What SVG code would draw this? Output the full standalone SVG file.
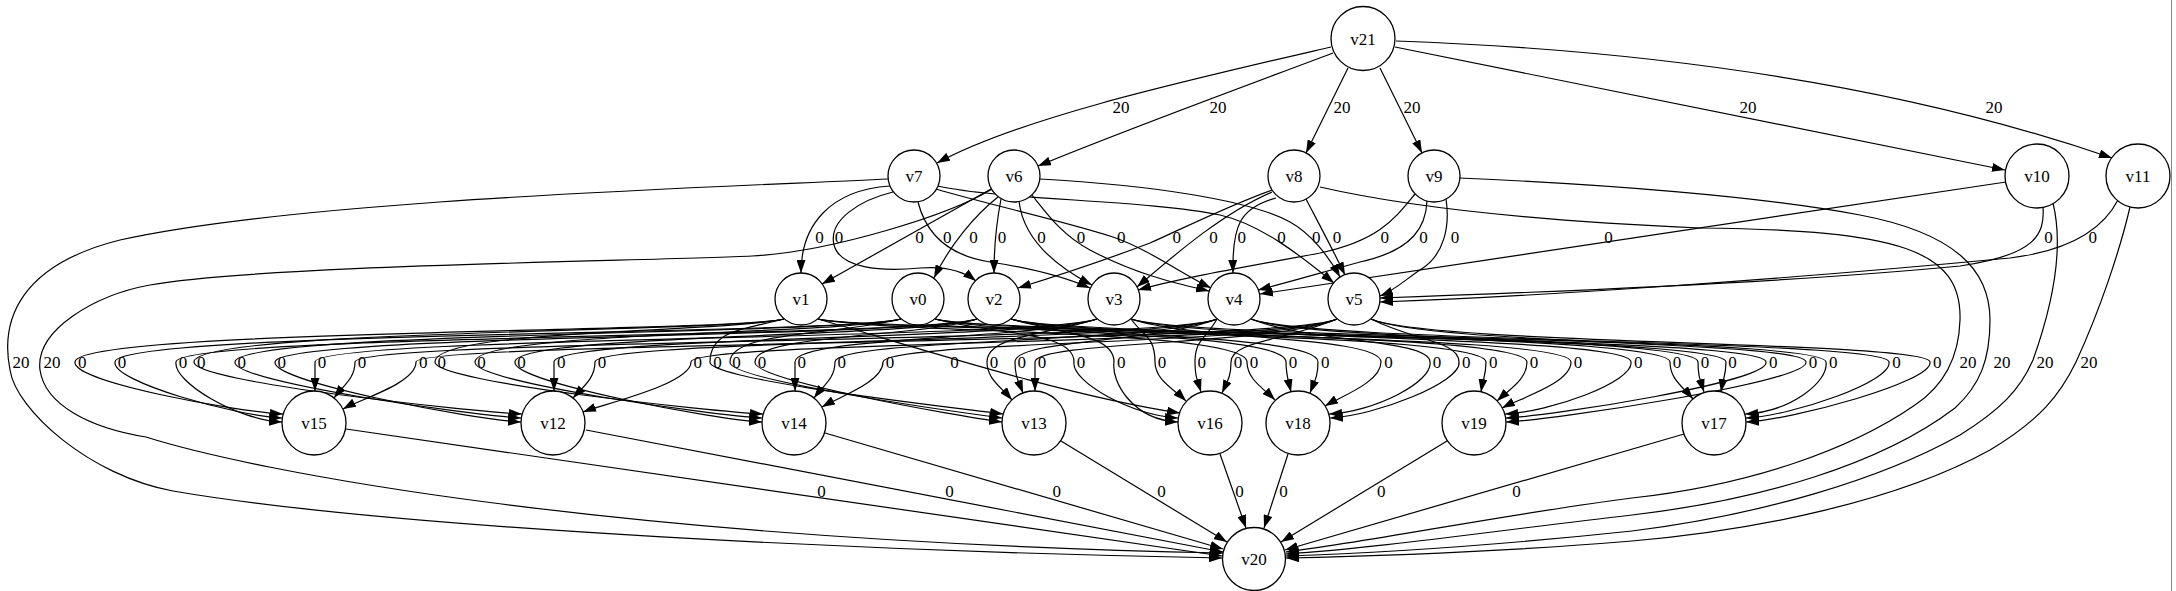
<svg xmlns="http://www.w3.org/2000/svg" width="2176" height="591" viewBox="0 0 2176 591">
<style>
.e{fill:none;stroke:#000;stroke-width:1.2;marker-end:url(#ah)}
.n circle{fill:#fff;stroke:#000;stroke-width:1.3}
text{font-family:"Liberation Serif","Times New Roman",serif;font-size:17px;text-anchor:middle;fill:#000}
</style>
<defs>
<marker id="ah" viewBox="0 0 13 9" refX="13" refY="4.5" markerWidth="13" markerHeight="9" orient="auto" markerUnits="userSpaceOnUse"><path d="M0,0 L13,4.5 L0,9 z" fill="#000"/></marker>
</defs>
<rect width="2176" height="591" fill="#fff"/>
<line x1="2171.5" y1="0" x2="2171.5" y2="591" stroke="#888" stroke-width="1"/>
<g id="connectors">
<path class="e" d="M1331,47 C1180,82 1020,118 937,163"/>
<path class="e" d="M1333,53 C1240,88 1120,132 1038,166"/>
<path class="e" d="M1348,68 L1306,153"/>
<path class="e" d="M1380,68 L1422,153"/>
<path class="e" d="M1395,47 L2005,170"/>
<path class="e" d="M1396,41 C1650,50 1900,85 2112,158"/>
<path class="e" d="M888,179 C700,188 300,200 120,240 C20,265 0,320 10,370 C16,410 90,476 173,491 C400,530 900,552 1222,558"/>
<path class="e" d="M992,189 C950,215 830,252 752,256 C652,261 260,265 150,285 C95,295 35,330 40,370 C45,405 90,428 146,437 C250,470 600,540 1223,553"/>
<path class="e" d="M1320,187 C1420,210 1560,222 1700,228 C1900,230 1962,250 1960,320 C1959,355 1945,385 1915,405 C1850,450 1750,485 1632,498 C1500,515 1380,540 1286,552"/>
<path class="e" d="M1459,178 C1600,184 1760,196 1860,215 C1955,233 1990,270 1990,320 C1990,360 1980,385 1955,408 C1880,465 1760,500 1632,515 C1500,530 1380,548 1286,554"/>
<path class="e" d="M2053,203 C2062,240 2058,290 2033,360 C2020,390 2000,410 1960,435 C1880,480 1760,515 1632,531 C1500,545 1380,553 1286,556"/>
<path class="e" d="M2130,207 C2120,250 2100,310 2076,362 C2060,395 2040,420 1990,450 C1900,500 1760,530 1632,541 C1500,552 1380,556 1286,558"/>
<path class="e" d="M890,186 C830,190 801,225 801,273"/>
<path class="e" d="M893,192 C860,200 828,220 834,245 C840,268 880,272 920,268 C945,266 962,270 976,281"/>
<path class="e" d="M991,189 L822,284"/>
<path class="e" d="M918,202 C925,230 945,255 990,262 C1030,268 1060,275 1090,288"/>
<path class="e" d="M998,197 C975,215 950,245 934,278"/>
<path class="e" d="M1001,199 C996,225 994,245 994,273"/>
<path class="e" d="M1019,201 C1022,228 1040,258 1092,285"/>
<path class="e" d="M1032,195 C1048,215 1062,235 1090,250 C1135,274 1175,283 1209,291"/>
<path class="e" d="M936,189 C990,205 1060,220 1113,237 C1150,250 1180,273 1211,288"/>
<path class="e" d="M1272,190 C1230,205 1190,225 1150,243 C1100,262 1060,275 1018,288"/>
<path class="e" d="M1272,192 C1225,212 1180,250 1137,287"/>
<path class="e" d="M1276,198 C1240,208 1232,225 1233,273"/>
<path class="e" d="M938,186 C1000,200 1150,200 1220,215 C1260,224 1300,255 1334,283"/>
<path class="e" d="M1040,179 C1150,185 1250,200 1290,222 C1310,233 1328,255 1340,277"/>
<path class="e" d="M1306,199 C1318,222 1332,248 1345,275"/>
<path class="e" d="M1415,194 C1395,218 1380,240 1320,253 C1240,268 1180,278 1138,290"/>
<path class="e" d="M1427,201 C1426,225 1415,250 1360,262 C1320,273 1290,282 1258,290"/>
<path class="e" d="M1446,199 C1450,225 1445,255 1420,270 C1405,280 1395,290 1380,296"/>
<path class="e" d="M2006,182 L1260,294"/>
<path class="e" d="M2043,207 C2045,235 2035,255 1960,266 C1800,282 1550,292 1380,298"/>
<path class="e" d="M2118,200 C2105,225 2075,250 2010,258 C1800,278 1550,296 1380,302"/>
<path class="e" d="M784,319 C724,333 75,329 75,362 C72,382 238,412 283,414"/>
<path class="e" d="M901,319 C841,335 115,331 115,362 C112,382 237,416 282,418"/>
<path class="e" d="M977,319 C917,338 176,334 176,362 C173,382 237,420 282,422"/>
<path class="e" d="M1097,319 C1037,340 315,336 315,362 C315,375 315,378 315,391"/>
<path class="e" d="M1217,319 C1157,343 355,339 355,362 C355,378 344,385 334,398"/>
<path class="e" d="M1337,319 C1277,345 416,341 416,362 C416,383 361,399 343,409"/>
<path class="e" d="M784,319 C724,333 194,329 194,362 C191,382 477,412 522,414"/>
<path class="e" d="M901,319 C841,335 235,331 235,362 C232,382 476,416 521,418"/>
<path class="e" d="M977,319 C917,338 275,334 275,362 C272,382 476,420 521,422"/>
<path class="e" d="M1097,319 C1037,340 554,336 554,362 C554,375 554,378 554,391"/>
<path class="e" d="M1217,319 C1157,343 595,339 595,362 C595,378 584,386 573,398"/>
<path class="e" d="M1337,319 C1277,345 691,341 691,362 C691,384 604,404 583,412"/>
<path class="e" d="M784,319 C724,333 435,329 435,362 C432,382 718,412 763,414"/>
<path class="e" d="M901,319 C841,335 475,331 475,362 C472,382 717,416 762,418"/>
<path class="e" d="M977,319 C917,338 515,334 515,362 C512,382 717,420 762,422"/>
<path class="e" d="M1097,319 C1037,340 795,336 795,362 C795,375 795,378 795,391"/>
<path class="e" d="M1217,319 C1157,343 835,339 835,362 C835,378 824,385 814,398"/>
<path class="e" d="M1337,319 C1277,345 883,341 883,362 C883,382 839,397 822,407"/>
<path class="e" d="M784,319 C747,329 710,329 710,362 C707,380 958,408 1003,414"/>
<path class="e" d="M901,319 C841,335 730,331 730,362 C727,380 957,412 1002,418"/>
<path class="e" d="M977,319 C917,338 755,334 755,362 C752,380 957,416 1002,422"/>
<path class="e" d="M1097,319 C1042,336 987,336 987,362 C987,379 1001,387 1012,400"/>
<path class="e" d="M1217,319 C1157,343 1015,339 1015,362 C1015,376 1018,380 1023,393"/>
<path class="e" d="M1337,319 C1277,345 1035,341 1035,362 C1035,375 1035,378 1035,391"/>
<path class="e" d="M818,319 C900,342 1060,395 1180,413"/>
<path class="e" d="M935,319 C995,335 1074,331 1074,362 C1071,382 1133,416 1178,418"/>
<path class="e" d="M1011,319 C1062,334 1114,334 1114,362 C1111,382 1133,420 1178,422"/>
<path class="e" d="M1131,319 C1143,336 1155,336 1155,362 C1155,380 1174,389 1186,401"/>
<path class="e" d="M1217,319 C1206,339 1195,339 1195,362 C1195,376 1197,379 1201,392"/>
<path class="e" d="M1337,319 C1284,341 1231,341 1231,362 C1231,376 1228,380 1222,393"/>
<path class="e" d="M818,319 C878,333 1247,329 1247,362 C1247,379 1263,388 1275,400"/>
<path class="e" d="M935,319 C995,335 1286,331 1286,362 C1286,375 1288,379 1291,392"/>
<path class="e" d="M1011,319 C1071,338 1318,334 1318,362 C1318,376 1315,380 1310,393"/>
<path class="e" d="M1131,319 C1191,340 1381,336 1381,362 C1381,382 1342,396 1325,406"/>
<path class="e" d="M1251,319 C1311,343 1430,339 1430,362 C1433,382 1374,412 1329,414"/>
<path class="e" d="M1371,319 C1415,341 1459,341 1459,362 C1462,382 1375,416 1330,418"/>
<path class="e" d="M818,319 C878,333 1486,329 1486,362 C1486,375 1483,379 1481,392"/>
<path class="e" d="M935,319 C995,335 1527,331 1527,362 C1527,379 1510,389 1497,401"/>
<path class="e" d="M1011,319 C1071,338 1571,334 1571,362 C1571,383 1521,398 1502,408"/>
<path class="e" d="M1131,319 C1191,340 1631,336 1631,362 C1634,382 1550,412 1505,414"/>
<path class="e" d="M1251,319 C1311,343 1766,339 1766,362 C1769,382 1551,416 1506,418"/>
<path class="e" d="M1371,319 C1431,345 1806,341 1806,362 C1809,382 1551,420 1506,422"/>
<path class="e" d="M818,319 C878,333 1670,329 1670,362 C1670,379 1682,386 1693,399"/>
<path class="e" d="M935,319 C995,335 1698,331 1698,362 C1698,376 1700,379 1704,392"/>
<path class="e" d="M1011,319 C1071,338 1726,334 1726,362 C1726,375 1723,379 1721,392"/>
<path class="e" d="M1131,319 C1191,340 1826,336 1826,362 C1829,382 1790,412 1745,414"/>
<path class="e" d="M1251,319 C1311,343 1889,339 1889,362 C1892,382 1791,416 1746,418"/>
<path class="e" d="M1371,319 C1431,345 1930,341 1930,362 C1933,382 1791,420 1746,422"/>
<path class="e" d="M346,429 L1222,556"/>
<path class="e" d="M586,430 L1223,552"/>
<path class="e" d="M825,433 L1223,549"/>
<path class="e" d="M1061,441 L1227,542"/>
<path class="e" d="M1220,454 L1246,528"/>
<path class="e" d="M1288,454 L1264,528"/>
<path class="e" d="M1447,441 L1281,542"/>
<path class="e" d="M1684,434 L1285,550"/>
</g>
<g id="edge-labels">
<text x="1121" y="113">20</text><text x="1218" y="113">20</text><text x="1342" y="113">20</text><text x="1412" y="113">20</text><text x="1748" y="113">20</text><text x="1994" y="113">20</text>
<text x="21" y="367.5">20</text><text x="52" y="367.5">20</text><text x="1968" y="367.5">20</text><text x="2002" y="367.5">20</text><text x="2045" y="367.5">20</text><text x="2089" y="367.5">20</text>
<text x="819.5" y="242.5">0</text><text x="839" y="242.5">0</text><text x="919.4" y="242.5">0</text><text x="947.2" y="242.5">0</text><text x="973.6" y="242.5">0</text><text x="1002" y="242.5">0</text><text x="1041.6" y="242.5">0</text><text x="1081.1" y="242.5">0</text><text x="1121.3" y="242.5">0</text><text x="1176.8" y="242.5">0</text><text x="1213.6" y="242.5">0</text><text x="1241.7" y="242.5">0</text><text x="1281.6" y="242.5">0</text><text x="1316.3" y="242.5">0</text><text x="1337.1" y="242.5">0</text><text x="1384.7" y="242.5">0</text><text x="1423.5" y="242.5">0</text><text x="1455.1" y="242.5">0</text><text x="1608.5" y="242.5">0</text><text x="2048.4" y="242.5">0</text><text x="2092.8" y="242.5">0</text>
<text x="82.2" y="367.5">0</text><text x="122.1" y="367.5">0</text><text x="182.9" y="367.5">0</text><text x="201.2" y="367.5">0</text><text x="241.8" y="367.5">0</text><text x="281.7" y="367.5">0</text><text x="322" y="367.5">0</text><text x="361.9" y="367.5">0</text><text x="423.3" y="367.5">0</text><text x="441.7" y="367.5">0</text><text x="481.6" y="367.5">0</text><text x="521.5" y="367.5">0</text><text x="561.3" y="367.5">0</text><text x="601.9" y="367.5">0</text><text x="697.7" y="367.5">0</text><text x="717.5" y="367.5">0</text><text x="736.6" y="367.5">0</text><text x="761.9" y="367.5">0</text><text x="801.8" y="367.5">0</text><text x="841.7" y="367.5">0</text><text x="889.9" y="367.5">0</text><text x="954.5" y="367.5">0</text><text x="994" y="367.5">0</text><text x="1021.8" y="367.5">0</text><text x="1041.9" y="367.5">0</text><text x="1081.1" y="367.5">0</text><text x="1121.3" y="367.5">0</text><text x="1161.9" y="367.5">0</text><text x="1201.8" y="367.5">0</text><text x="1237.9" y="367.5">0</text><text x="1253.9" y="367.5">0</text><text x="1293.1" y="367.5">0</text><text x="1325.3" y="367.5">0</text><text x="1388.5" y="367.5">0</text><text x="1437.1" y="367.5">0</text><text x="1466.2" y="367.5">0</text><text x="1493.3" y="367.5">0</text><text x="1533.9" y="367.5">0</text><text x="1578" y="367.5">0</text><text x="1638.2" y="367.5">0</text><text x="1677.1" y="367.5">0</text><text x="1704.9" y="367.5">0</text><text x="1732.6" y="367.5">0</text><text x="1773.2" y="367.5">0</text><text x="1813.1" y="367.5">0</text><text x="1833.2" y="367.5">0</text><text x="1896.4" y="367.5">0</text><text x="1937.3" y="367.5">0</text>
<text x="821.6" y="497">0</text><text x="949.4" y="497">0</text><text x="1056.8" y="497">0</text><text x="1161.6" y="497">0</text><text x="1239.6" y="497">0</text><text x="1283.4" y="497">0</text><text x="1381.2" y="497">0</text><text x="1516.5" y="497">0</text>
</g>
<g id="nodes">
<g id="v21" class="n"><circle cx="1363" cy="38.5" r="32"/><text x="1363" y="44.5">v21</text></g>
<g id="v7" class="n"><circle cx="914" cy="176" r="26"/><text x="914" y="182">v7</text></g>
<g id="v6" class="n"><circle cx="1014" cy="176" r="26"/><text x="1014" y="182">v6</text></g>
<g id="v8" class="n"><circle cx="1294" cy="176" r="26"/><text x="1294" y="182">v8</text></g>
<g id="v9" class="n"><circle cx="1434" cy="176" r="26"/><text x="1434" y="182">v9</text></g>
<g id="v10" class="n"><circle cx="2037" cy="176" r="32"/><text x="2037" y="182">v10</text></g>
<g id="v11" class="n"><circle cx="2138" cy="176" r="32"/><text x="2138" y="182">v11</text></g>
<g id="v1" class="n"><circle cx="801" cy="299" r="26"/><text x="801" y="305">v1</text></g>
<g id="v0" class="n"><circle cx="918" cy="299" r="26"/><text x="918" y="305">v0</text></g>
<g id="v2" class="n"><circle cx="994" cy="299" r="26"/><text x="994" y="305">v2</text></g>
<g id="v3" class="n"><circle cx="1114" cy="299" r="26"/><text x="1114" y="305">v3</text></g>
<g id="v4" class="n"><circle cx="1234" cy="299" r="26"/><text x="1234" y="305">v4</text></g>
<g id="v5" class="n"><circle cx="1354" cy="299" r="26"/><text x="1354" y="305">v5</text></g>
<g id="v15" class="n"><circle cx="314" cy="423" r="32"/><text x="314" y="429">v15</text></g>
<g id="v12" class="n"><circle cx="553" cy="423" r="32"/><text x="553" y="429">v12</text></g>
<g id="v14" class="n"><circle cx="794" cy="423" r="32"/><text x="794" y="429">v14</text></g>
<g id="v13" class="n"><circle cx="1034" cy="423" r="32"/><text x="1034" y="429">v13</text></g>
<g id="v16" class="n"><circle cx="1210" cy="423" r="32"/><text x="1210" y="429">v16</text></g>
<g id="v18" class="n"><circle cx="1298" cy="423" r="32"/><text x="1298" y="429">v18</text></g>
<g id="v19" class="n"><circle cx="1474" cy="423" r="32"/><text x="1474" y="429">v19</text></g>
<g id="v17" class="n"><circle cx="1714" cy="423" r="32"/><text x="1714" y="429">v17</text></g>
<g id="v20" class="n"><circle cx="1254" cy="559" r="31.5"/><text x="1254" y="565">v20</text></g>
</g>
</svg>
